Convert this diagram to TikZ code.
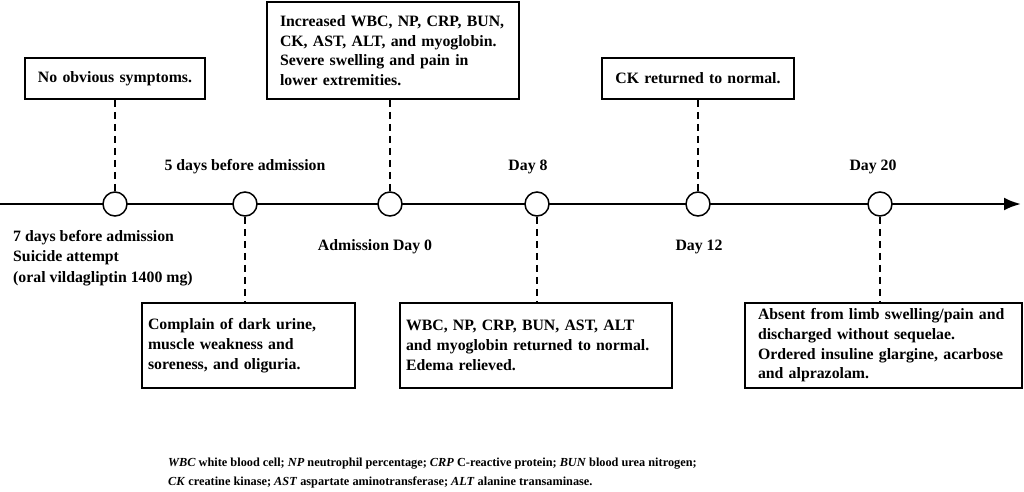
\documentclass[tikz,border=0pt]{standalone}
\usepackage{fontspec}
\setmainfont{Liberation Serif}
\usetikzlibrary{positioning}
\usetikzlibrary{arrows.meta}

\begin{document}
\begin{tikzpicture}[x=1pt,y=-1pt,
    event/.style={draw,line width=1.5pt,inner sep=0pt,align=left,
      font=\bfseries\fontsize{15.8}{19.7}\selectfont},
    stamp/.style={font=\bfseries\fontsize{15.8}{20.5}\selectfont,align=left},
    dot/.style={circle,draw,line width=1.5pt,fill=white,minimum size=24pt,inner sep=0pt},
    link/.style={line width=1.6pt,dash pattern=on 7pt off 5pt}]
        \useasboundingbox (0,0) rectangle (1024,491);

        \coordinate (start) at (0,204);
        \coordinate (stop) at (1021,204);
        \draw[line width=2.6pt,-{Latex[length=17pt,width=13pt]}] (start) -- (stop);

        \node[dot] (d1) at (115,204) {};
        \node[dot] (d2) at (245,204) {};
        \node[dot] (d3) at (390,204) {};
        \node[dot] (d4) at (537,204) {};
        \node[dot] (d5) at (698,204) {};
        \node[dot] (d6) at (880,204) {};

        \node[event,minimum width=180pt,minimum height=41pt,text width=170pt,align=center] (b1) at (115,78.5) {No obvious symptoms.};
        \node[event,minimum width=252pt,minimum height=97pt,text width=226pt] (b3) at (393,50.5)
          {Increased WBC, NP, CRP, BUN,\\CK, AST, ALT, and myoglobin.\\Severe swelling and pain in\\lower extremities.};
        \node[event,minimum width=192pt,minimum height=41pt,text width=182pt,align=center] (b5) at (698,78.5) {CK returned to normal.};
        \node[event,minimum width=213pt,minimum height=85pt,text width=201pt] (b2) at (248.5,345.5)
          {Complain of dark urine,\\muscle weakness and\\soreness, and oliguria.};
        \node[event,minimum width=272pt,minimum height=85pt,text width=260pt] (b4) at (536,345.5)
          {WBC, NP, CRP, BUN, AST, ALT\\and myoglobin returned to normal.\\Edema relieved.};
        \node[event,minimum width=277pt,minimum height=85pt,text width=251pt] (b6) at (883.5,345.5)
          {Absent from limb swelling/pain and\\discharged without sequelae.\\Ordered insuline glargine, acarbose\\and alprazolam.};

        % dashed drops, kept vertical under each circle
        \draw[link] (b1.south -| d1) -- (d1);
        \draw[link] (d2) -- (b2.north -| d2);
        \draw[link] (b3.south -| d3) -- (d3);
        \draw[link] (d4) -- (b4.north -| d4);
        \draw[link] (b5.south -| d5) -- (d5);
        \draw[link] (d6) -- (b6.north -| d6);

        \node[stamp] (t1) at (245,167) {5 days before admission};
        \node[stamp] (t4) at (528,167) {Day 8};
        \node[stamp] (t6) at (873,167) {Day 20};
        \node[stamp] (t3) at (375,247) {Admission Day 0};
        \node[stamp] (t5) at (699,247) {Day 12};
        \node[stamp,anchor=north west,inner sep=0pt] (t0) at (13,230)
          {7 days before admission\\Suicide attempt\\(oral vildagliptin 1400 mg)};

        \node[anchor=north west,inner sep=0pt,align=left,font=\bfseries\fontsize{12.3}{19}\selectfont] (key) at (168,458)
          {\textit{WBC} white blood cell; \textit{NP} neutrophil percentage; \textit{CRP} C-reactive protein; \textit{BUN} blood urea nitrogen;\\
           \textit{CK} creatine kinase; \textit{AST} aspartate aminotransferase; \textit{ALT} alanine transaminase.};
      \end{tikzpicture}
\end{document}
